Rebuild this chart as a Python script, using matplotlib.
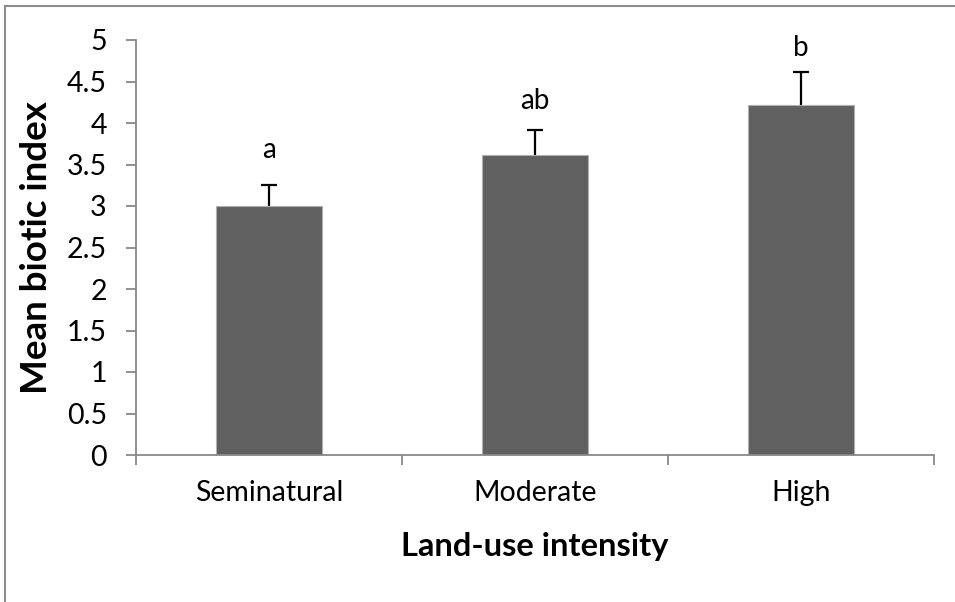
import matplotlib
matplotlib.use("Agg")
import matplotlib.pyplot as plt
from matplotlib.lines import Line2D

categories = ["Seminatural", "Moderate", "High"]
means = [3.0, 3.61, 4.22]
errors = [0.25, 0.30, 0.39]
letters = ["a", "ab", "b"]
yticks = [0, 0.5, 1, 1.5, 2, 2.5, 3, 3.5, 4, 4.5, 5]
ytick_labels = ["0", "0.5", "1", "1.5", "2", "2.5", "3", "3.5", "4", "4.5", "5"]

plt.rcParams['font.family'] = ['Lato', 'DejaVu Sans']

fig = plt.figure(figsize=(9.55, 6.02), dpi=100)
ax = fig.add_axes([136/955, 1-455/602, (934-136)/955, (455-40)/602])

x = list(range(len(categories)))
ax.bar(x, means, width=0.4, color="#606060", edgecolor="#b0b0b0", linewidth=0.8, zorder=2)
eb = ax.errorbar(x, means, yerr=[[0]*len(means), errors], fmt="none", ecolor="black",
                 elinewidth=1.6, capsize=6, capthick=1.6, zorder=3)
eb[1][0].set_visible(False)

offsets_px = [35, 29, 24]
for xi, m, e, lab, off in zip(x, means, errors, letters, offsets_px):
    ax.annotate(lab, (xi, m + e), xytext=(0, off * 0.72), textcoords="offset points",
                ha="center", va="center", fontsize=20)

ax.set_xlim(-0.5, 2.5)
ax.set_ylim(0, 5)
ax.set_yticks(yticks)
ax.set_yticklabels(ytick_labels, fontsize=20.5)
ax.set_xticks(x)
ax.set_xticklabels(categories, fontsize=20.5)
ax.set_xticks([-0.5, 0.5, 1.5, 2.5], minor=True)

for s in ["top", "right"]:
    ax.spines[s].set_visible(False)
for s in ["left", "bottom"]:
    ax.spines[s].set_color("#888888")
    ax.spines[s].set_linewidth(1.3)

ax.tick_params(axis="y", which="major", length=7, width=1.3, color="#888888", pad=14, direction="out")
ax.tick_params(axis="x", which="major", length=0, pad=18)
ax.tick_params(axis="x", which="minor", length=7, width=1.3, color="#888888", direction="out")

ax.set_xlabel("Land-use intensity", fontsize=23.5, fontweight="bold", labelpad=19)
ax.set_ylabel("Mean biotic index", fontsize=26.5, fontweight="bold", labelpad=10)

# chart area border (top and left visible)
fig.add_artist(Line2D([5/955, 5/955], [0, 1-6/602], transform=fig.transFigure, color="#8c8c8c", lw=1.5))
fig.add_artist(Line2D([5/955, 1], [1-6/602, 1-6/602], transform=fig.transFigure, color="#8c8c8c", lw=1.5))

fig.savefig("out.png", dpi=100)
